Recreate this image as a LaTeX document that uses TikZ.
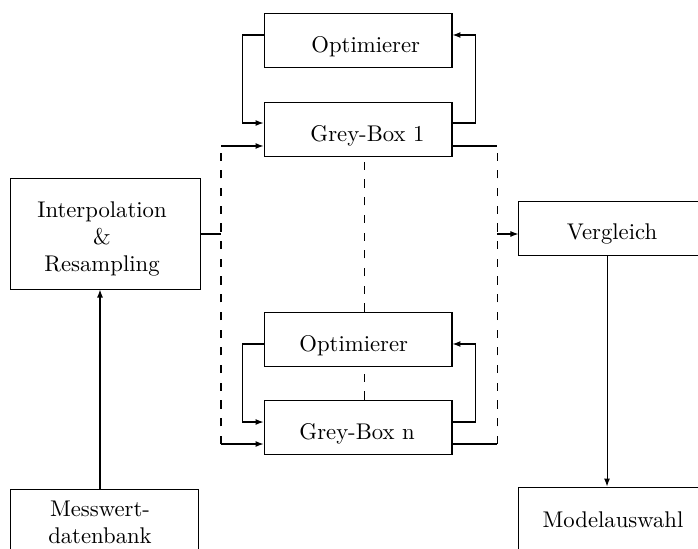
\documentclass[tikz,border=0pt]{standalone}
\usetikzlibrary{arrows.meta}
\begin{document}
\begin{tikzpicture}[x=0.4405pt,y=-0.4405pt,
  box/.style={draw, line width=0.45pt, inner sep=0pt, minimum width=82.8pt, minimum height=24.2pt},
  lbl/.style={inner sep=0pt, anchor=base west},
  txt/.style={inner sep=0pt, align=center},
  flow/.style={line width=0.45pt, -{Latex[length=3.5pt,width=2.6pt]}},
  link/.style={line width=0.45pt},
  dashlink/.style={line width=0.45pt, dash pattern=on 3.6pt off 4.2pt}]
\useasboundingbox (0,0) rectangle (698,549);
\clip (0,0) rectangle (698,549);

% first model branch
\node[box] (opt1) at (358,40.5) {};
\node[box] (gb1) at (358,129.5) {};
\node[lbl] (topt1) at (311,53) {Optimierer};
\node[lbl] (tgb1) at (310,142) {Grey-Box 1};

% last model branch
\node[box] (optn) at (358,339.5) {};
\node[box] (gbn) at (358,427.5) {};
\node[lbl] (toptn) at (299,351) {Optimierer};
\node[lbl] (tgbn) at (299,439) {Grey-Box n};

% pre- and postprocessing
\node[box, minimum width=83.3pt, minimum height=48.5pt] (interp) at (105.5,234) {};
\node[txt] (tinterp) at (102,239) {Interpolation\\\&\\Resampling};
\node[box, minimum width=82pt] (verg) at (612,228.5) {};
\node[lbl, anchor=base] (tverg) at (612,240) {Vergleich};
\node[box, minimum width=82pt, minimum height=30.8pt] (modl) at (612,522) {};
\node[lbl, anchor=base] (tmodl) at (613,527) {Modelauswahl};
\node[box, minimum width=82.4pt, minimum height=30.8pt] (mess) at (104.5,524) {};
\node[txt] (tmess) at (100,522.7) {Messwert-\\datenbank};

% distribution and collection points
\coordinate (inL1) at (221,146);
\coordinate (inLn) at (221,444);
\coordinate (outR1) at (497,146);
\coordinate (outRn) at (497,444);
\coordinate (midL) at (221,234);
\coordinate (midR) at (497,234);

% optimisation loops
\draw[flow] ([yshift=2.42pt]opt1.west) -- ++(-21,0) |- ([yshift=2.86pt]gb1.west);
\draw[flow] ([yshift=2.86pt]gb1.east) -- ++(23,0) |- ([yshift=2.42pt]opt1.east);
\draw[flow] ([yshift=-1.98pt]optn.west) -- ++(-21,0) |- ([yshift=2.42pt]gbn.west);
\draw[flow] ([yshift=2.42pt]gbn.east) -- ++(23,0) |- ([yshift=-1.98pt]optn.east);

% inputs and outputs of the grey-box models
\draw[flow] (inL1) -- (inL1 -| gb1.west);
\draw[flow] (inLn) -- (inLn -| gbn.west);
\draw[link] (outR1 -| gb1.east) -- (outR1);
\draw[link] (outRn -| gbn.east) -- (outRn);
\draw[dashlink] (inLn) -- (inL1);
\draw[dashlink] (outRn) -- (outR1);
\draw[dashlink] ([xshift=2.8pt]optn.north) -- ([xshift=2.8pt]gb1.south);
\draw[dashlink] ([xshift=2.8pt]gbn.north) -- ([xshift=2.8pt]optn.south);

% main data flow
\draw[flow] ([xshift=-1.98pt]mess.north) -- ([xshift=-1.98pt]mess.north |- interp.south);
\draw[link] (interp.east |- midL) -- (midL);
\draw[flow] (midR) -- (midR -| verg.west);
\draw[flow] ([xshift=-2.2pt]verg.south) -- ([xshift=-2.2pt]modl.north);
\end{tikzpicture}
\end{document}
